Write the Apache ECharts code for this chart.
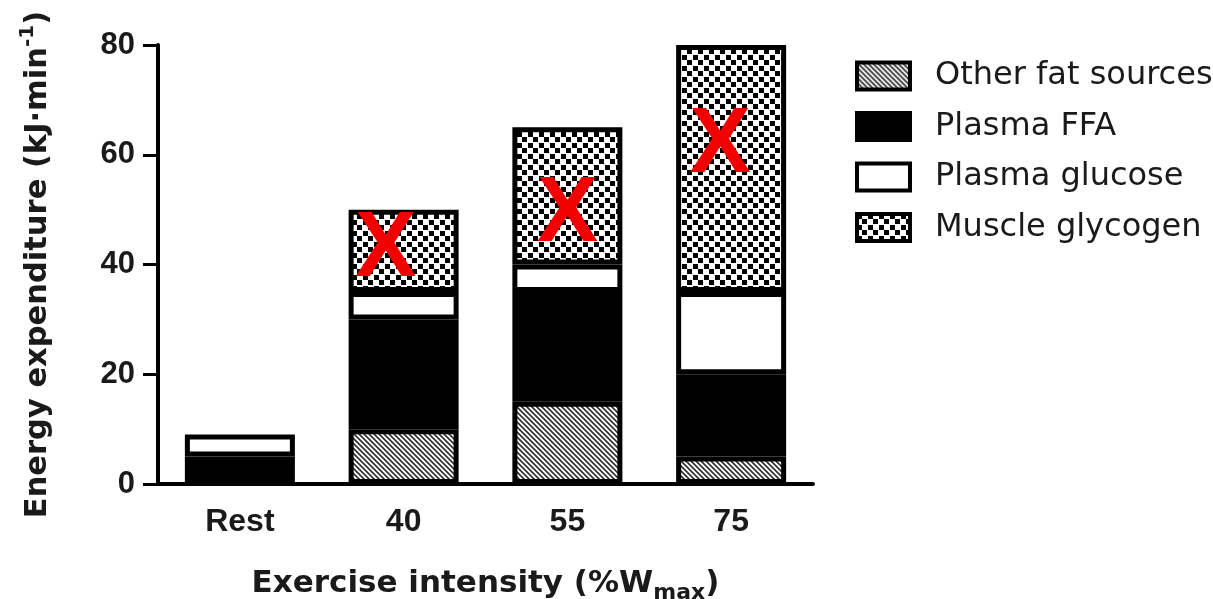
<!DOCTYPE html>
<html>
<head>
<meta charset="utf-8">
<script src="https://cdn.jsdelivr.net/npm/echarts@6/dist/echarts.min.js"></script>
<style>
html,body{margin:0;padding:0;background:#fff;}
#chart{width:1213px;height:599px;}
</style>
</head>
<body>
<div id="chart"></div>
<script>
// ---- data ----
const categories = ['Rest', '40', '55', '75'];
const seriesNames = ['Other fat sources', 'Plasma FFA', 'Plasma glucose', 'Muscle glycogen'];
const otherFat = [0, 10, 15, 5];
const plasmaFFA = [5, 20, 20, 15];
const plasmaGlucose = [4, 5, 5, 15];
const muscleGlycogen = [0, 15, 25, 45];
const xMarkValues = [null, 43.4, 49.7, 62.5];
const yTickLabels = ['0', '20', '40', '60', '80'];

// ---- patterns ----
function hatchPattern() {
  const s = 5;
  const c = document.createElement('canvas');
  c.width = s; c.height = s;
  const g = c.getContext('2d');
  g.fillStyle = '#fff'; g.fillRect(0, 0, s, s);
  g.strokeStyle = '#333'; g.lineWidth = 1.7;
  g.beginPath();
  g.moveTo(-1, -1); g.lineTo(s + 1, s + 1);
  g.moveTo(-1, s - 1); g.lineTo(1, s + 1);
  g.moveTo(s - 1, -1); g.lineTo(s + 1, 1);
  g.stroke();
  return c;
}
function checkerPattern() {
  const s = 11;
  const c = document.createElement('canvas');
  c.width = s; c.height = s;
  const g = c.getContext('2d');
  g.fillStyle = '#fff'; g.fillRect(0, 0, s, s);
  g.fillStyle = '#000';
  g.fillRect(0, 0, 5, 5);
  g.fillRect(5, 5, 5, 5);
  return c;
}

const fills = [
  { image: hatchPattern(), repeat: 'repeat' },
  '#000000',
  '#ffffff',
  { image: checkerPattern(), repeat: 'repeat' }
];
const valueSets = [otherFat, plasmaFFA, plasmaGlucose, muscleGlycogen];

const font = 'Liberation Sans, Arial, Helvetica, sans-serif';
const wideFont = 'DejaVu Sans, Verdana, sans-serif';

const barSeries = seriesNames.map((name, i) => ({
  name: name,
  type: 'bar',
  stack: 'total',
  barWidth: 110,
  data: valueSets[i].map(v => (v === 0 ? null : v)),
  itemStyle: { color: fills[i], borderColor: '#000', borderWidth: 5 },
  emphasis: { disabled: true },
  animation: false
}));

const markOffsets = [[0, 0], [-18, 5], [0, 4], [-11, 6]];
const xSeries = {
  name: 'marks',
  type: 'scatter',
  z: 10,
  symbolSize: 1,
  itemStyle: { color: 'rgba(0,0,0,0)', opacity: 1 },
  data: xMarkValues.map((v, i) => (v === null ? null : {
    value: v,
    label: { offset: markOffsets[i] }
  })),
  label: {
    show: true,
    position: 'inside',
    formatter: 'X',
    color: '#f20000',
    opacity: 1,
    fontFamily: font,
    fontWeight: 'bold',
    fontSize: 92
  },
  emphasis: { disabled: true },
  animation: false
};

const chart = echarts.init(document.getElementById('chart'), null, { renderer: 'canvas' });
chart.setOption({
  animation: false,
  backgroundColor: '#fff',
  grid: { left: 158, right: 400, top: 45, bottom: 115, containLabel: false, outerBoundsMode: 'none' },
  legend: {
    data: seriesNames,
    orient: 'vertical',
    left: 850,
    top: 55,
    itemWidth: 53,
    itemHeight: 27,
    itemGap: 18.5,
    icon: 'rect',
    selectedMode: false,
    itemStyle: { borderColor: '#000', borderWidth: 4 },
    textStyle: { fontFamily: wideFont, fontSize: 32, lineHeight: 32, color: '#1a1a1a', padding: [0, 0, 0, 20] }
  },
  xAxis: {
    type: 'category',
    data: categories,
    name: '{a|Exercise intensity (%W}{sub|max}{a|)}',
    nameLocation: 'middle',
    nameGap: 80,
    nameTextStyle: {
      rich: {
        a: { fontFamily: wideFont, fontWeight: 'bold', fontSize: 31, color: '#1a1a1a', lineHeight: 40 },
        sub: { fontFamily: wideFont, fontWeight: 'bold', fontSize: 22, color: '#1a1a1a', lineHeight: 40, verticalAlign: 'bottom' }
      }
    },
    axisLine: { lineStyle: { color: '#000', width: 4 } },
    axisTick: { alignWithLabel: true, length: 15, lineStyle: { color: '#000', width: 3 } },
    axisLabel: { margin: 22, fontFamily: font, fontWeight: 'bold', fontSize: 32, color: '#1a1a1a' }
  },
  yAxis: {
    type: 'value',
    min: 0, max: 80, interval: 20,
    name: '{a|Energy expenditure (kJ·min}{sup|-1}{a|)}',
    nameLocation: 'middle',
    nameGap: 100,
    nameTextStyle: {
      rich: {
        a: { fontFamily: wideFont, fontWeight: 'bold', fontSize: 30.5, color: '#1a1a1a', lineHeight: 40 },
        sup: { fontFamily: wideFont, fontWeight: 'bold', fontSize: 20, color: '#1a1a1a', lineHeight: 40, verticalAlign: 'top' }
      }
    },
    splitLine: { show: false },
    axisLine: { show: true, lineStyle: { color: '#000', width: 4 } },
    axisTick: { show: true, length: 15, lineStyle: { color: '#000', width: 3 } },
    axisLabel: {
      margin: 23, fontFamily: font, fontWeight: 'bold', fontSize: 31, color: '#1a1a1a',
      formatter: v => yTickLabels[Math.round(v / 20)]
    }
  },
  series: barSeries.concat([xSeries])
});
</script>
</body>
</html>
